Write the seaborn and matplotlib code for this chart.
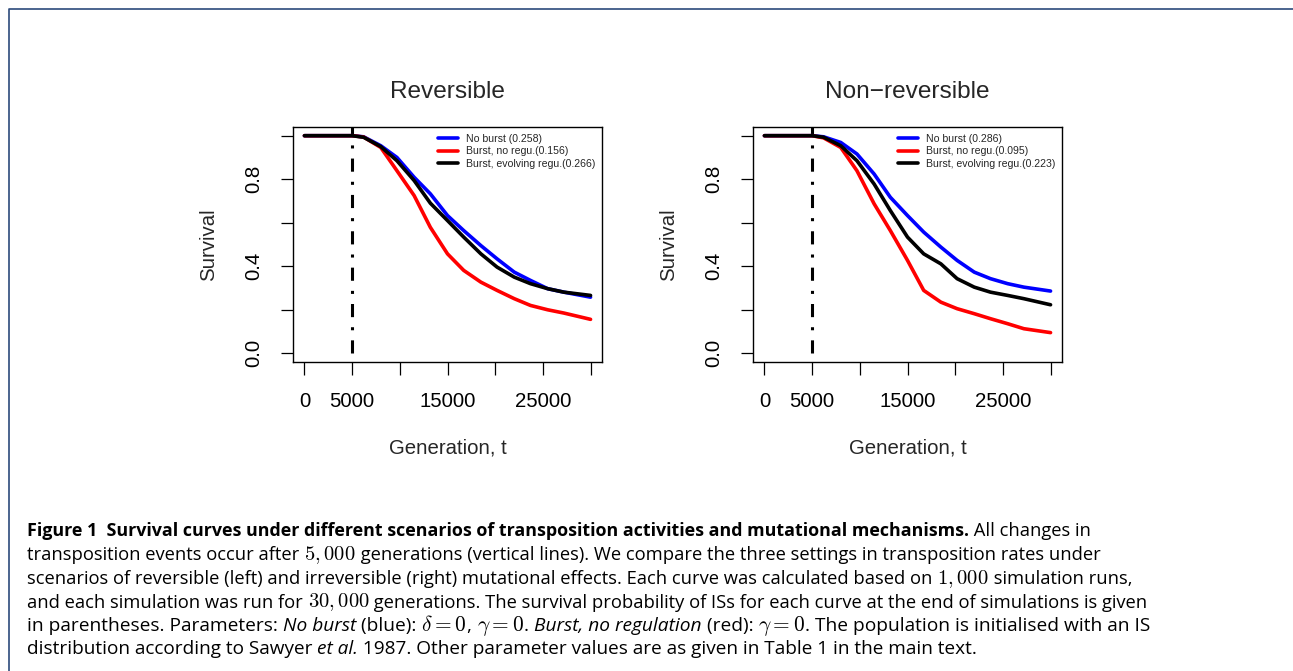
import matplotlib
matplotlib.use("Agg")
import matplotlib.pyplot as plt
from matplotlib.lines import Line2D
import numpy as np
import pandas as pd
import seaborn as sns

W, H = 1293, 671

gen = [0, 5000, 6200, 8000, 9700, 11500, 13200, 15000, 16700, 18500,
       20200, 22000, 23700, 25500, 27200, 30000]

# reversible panel
rev_no_burst = [1, 1, 0.995, 0.954, 0.900, 0.809, 0.733, 0.633, 0.564, 0.495,
                0.434, 0.373, 0.335, 0.297, 0.281, 0.258]
rev_no_regu = [1, 1, 0.994, 0.946, 0.839, 0.725, 0.579, 0.457, 0.381, 0.327,
               0.289, 0.251, 0.220, 0.200, 0.185, 0.156]
rev_evolving = [1, 1, 0.993, 0.950, 0.885, 0.794, 0.690, 0.610, 0.534, 0.457,
                0.396, 0.350, 0.320, 0.297, 0.281, 0.266]

# non-reversible panel
nrev_no_burst = [1, 1, 0.995, 0.969, 0.916, 0.824, 0.717, 0.633, 0.557, 0.488,
                 0.427, 0.373, 0.343, 0.320, 0.304, 0.286]
nrev_no_regu = [1, 1, 0.990, 0.946, 0.839, 0.687, 0.564, 0.427, 0.289, 0.235,
                0.205, 0.182, 0.159, 0.136, 0.113, 0.095]
nrev_evolving = [1, 1, 0.993, 0.954, 0.885, 0.778, 0.656, 0.534, 0.457, 0.411,
                 0.343, 0.304, 0.281, 0.266, 0.251, 0.223]

rev_labels = ["No burst (0.258)", "Burst, no regu.(0.156)", "Burst, evolving regu.(0.266)"]
nrev_labels = ["No burst (0.286)", "Burst, no regu.(0.095)", "Burst, evolving regu.(0.223)"]
colors = ["#0000ff", "#ff0000", "#000000"]

burst_time = 5000
x_ticks = [0, 5000, 10000, 15000, 20000, 25000, 30000]
x_ticklabels = ["0", "5000", "", "15000", "", "25000", ""]
y_ticks = [0, 0.2, 0.4, 0.6, 0.8, 1.0]
y_ticklabels = ["0.0", "", "0.4", "", "0.8", ""]

sns.set_style("ticks")
plt.rcParams["font.family"] = ["Liberation Sans", "DejaVu Sans"]
plt.rcParams["mathtext.fontset"] = "cm"

fig = plt.figure(figsize=(W / 100, H / 100), dpi=100)

panels = [
    ("Reversible", [rev_no_burst, rev_no_regu, rev_evolving], rev_labels, 293),
    ("Non\u2212reversible", [nrev_no_burst, nrev_no_regu, nrev_evolving], nrev_labels, 753),
]

LAB_FS = 14.7
for title, curves, labels, left_px in panels:
    ax = fig.add_axes([left_px / W, 1 - 362 / H, 309 / W, 235 / H])
    df = pd.DataFrame({
        "gen": gen * 3,
        "surv": curves[0] + curves[1] + curves[2],
        "scenario": sum([[lab] * len(gen) for lab in labels], []),
    })
    ax.plot([burst_time, burst_time], [0, 1.1], color="black", lw=2.2,
            ls=(0, (4.3, 3.3, 1.0, 3.3)), dash_capstyle="butt", zorder=1)
    sns.lineplot(data=df, x="gen", y="surv", hue="scenario", hue_order=labels,
                 palette=dict(zip(labels, colors)), estimator=None, sort=False,
                 lw=2.6, ax=ax, zorder=2)
    handles, labs = ax.get_legend_handles_labels()
    leg = ax.legend(handles, labs, loc="upper left", bbox_to_anchor=(0.468, 0.972),
                    frameon=False, fontsize=7.6, handlelength=1.9, handletextpad=0.75,
                    labelspacing=0.25, borderpad=0, borderaxespad=0)
    for ln in leg.get_lines():
        ln.set_linewidth(2.6)

    ax.set_xlim(-1200, 31200)
    ax.set_ylim(-0.04, 1.04)
    ax.set_xticks(x_ticks)
    ax.set_xticklabels(x_ticklabels)
    ax.set_yticks(y_ticks)
    ax.set_yticklabels(y_ticklabels, rotation=90, va="center")
    ax.tick_params(direction="out", length=9, width=0.9, pad=12.5,
                   labelsize=LAB_FS, colors="black")
    for sp in ax.spines.values():
        sp.set_visible(True)
        sp.set_linewidth(1.0)
        sp.set_color("black")
    ax.set_xlabel("Generation, t", fontsize=LAB_FS, labelpad=20)
    ax.set_ylabel("Survival", fontsize=LAB_FS, labelpad=19)
    ax.set_title(title, fontsize=17.6, pad=21)

# page frame
fig.add_artist(Line2D([9 / W, 9 / W, 1], [0, 1 - 9 / H, 1 - 9 / H],
                      transform=fig.transFigure, color="#2c4a7c", lw=1.2))

# caption, laid out fragment by fragment
renderer = fig.canvas.get_renderer()
REG = dict(family="Open Sans")
BOLD = dict(family="Open Sans", weight="bold")
ITAL = dict(family="Open Sans", style="italic")
MATH = dict(scale=1.12)

caption = [
    [("Figure 1  Survival curves under different scenarios of transposition activities and mutational mechanisms.", BOLD),
     (" All changes in", REG)],
    [("transposition events occur after ", REG), ("$5,000$", MATH),
     (" generations (vertical lines). We compare the three settings in transposition rates under", REG)],
    [("scenarios of reversible (left) and irreversible (right) mutational effects. Each curve was calculated based on ", REG),
     ("$1,000$", MATH), (" simulation runs,", REG)],
    [("and each simulation was run for ", REG), ("$30,000$", MATH),
     (" generations. The survival probability of ISs for each curve at the end of simulations is given", REG)],
    [("in parentheses. Parameters: ", REG), ("No burst", ITAL), (" (blue): ", REG), (r"$\delta=0$", MATH),
     (", ", REG), (r"$\gamma=0$", MATH), (". ", REG), ("Burst, no regulation", ITAL), (" (red): ", REG),
     (r"$\gamma=0$", MATH), (". The population is initialised with an IS", REG)],
    [("distribution according to Sawyer ", REG), ("et al.", ITAL),
     (" 1987. Other parameter values are as given in Table 1 in the main text.", REG)],
]
baselines = [536.5, 560, 584, 607.5, 631, 654.5]
line_ends = [1075, 1097, 1131, 1145, 1149, 973]
CAP_X0 = 27


def put_line(parts, y_px, x0, size):
    x = x0
    texts = []
    for text, kw in parts:
        kw = dict(kw)
        scale = kw.pop("scale", 1.0)
        t = fig.text(x / W, 1 - y_px / H, text, ha="left", va="baseline",
                     fontsize=size * scale, color="black", **kw)
        x = t.get_window_extent(renderer).x1
        texts.append(t)
    return texts, x


def fit_line(parts, y_px, x0, x_end, base=12.0):
    texts, x = put_line(parts, y_px, x0, base)
    for t in texts:
        t.remove()
    size = base * (x_end - x0) / (x - x0)
    put_line(parts, y_px, x0, size)
    return size


sizes = []
for parts, y_px, x_end in zip(caption[1:], baselines[1:], line_ends[1:]):
    sizes.append(fit_line(parts, y_px, CAP_X0, x_end))

# bold lead-in spans to x~968, the rest of line one follows it
bold_size = fit_line(caption[0][:1], baselines[0], CAP_X0, 968)
_, bold_end = put_line(caption[0][:1], baselines[0], CAP_X0, bold_size)
fig.texts[-1].remove()
put_line(caption[0][1:], baselines[0], bold_end, float(np.median(sizes)))

fig.savefig("out.png", dpi=100)
